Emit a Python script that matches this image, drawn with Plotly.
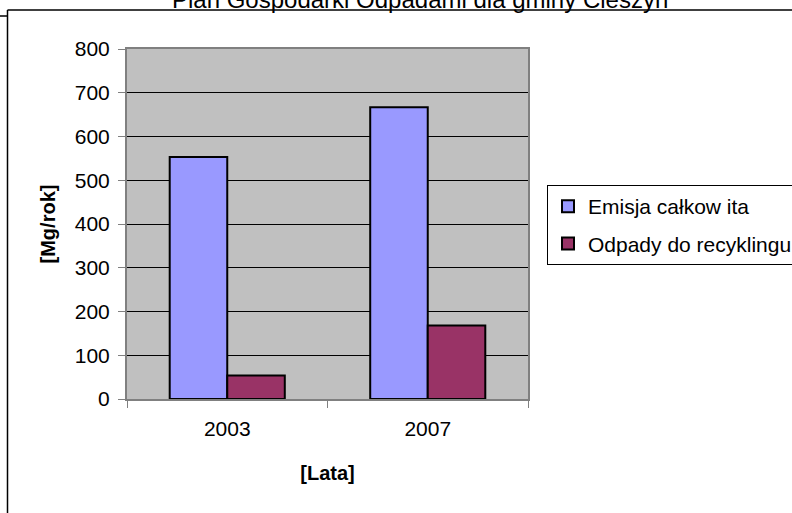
import plotly.graph_objects as go

# Data
years = ["2003", "2007"]
emisja = [553, 667]
recykling = [54, 168]
series_names = ["Emisja całkow ita", "Odpady do recyklingu"]
title_text = "Plan Gospodarki Odpadami dla gminy Cieszyn"

W, H = 792, 513
L, R, T, B = 127, 528, 49, 399  # plot area in pixels
pw, ph = R - L, B - T

def px(x):
    return (x - L) / pw

def py(y):
    return (B - y) / ph

FONT = "Liberation Sans, Arial, sans-serif"

fig = go.Figure()
fig.add_trace(go.Bar(
    x=years, y=emisja, name=series_names[0], legendgroup="a",
    marker=dict(color="#9999FF", line=dict(color="black", width=2)),
))
fig.add_trace(go.Bar(
    x=years, y=recykling, name=series_names[1], legendgroup="b",
    marker=dict(color="#993366", line=dict(color="black", width=2)),
))

fig.update_layout(
    width=W, height=H,
    margin=dict(l=L, r=W - R, t=T, b=H - B, autoexpand=False),
    paper_bgcolor="white",
    plot_bgcolor="#C0C0C0",
    barmode="group",
    bargap=0.426,
    bargroupgap=0,
    font=dict(family=FONT, size=21, color="black"),
    showlegend=True,
    legend=dict(
        x=px(547), y=py(185), xanchor="left", yanchor="top",
        bgcolor="white", bordercolor="black", borderwidth=1,
        font=dict(size=21), tracegroupgap=7,
    ),
    xaxis=dict(
        type="category",
        showline=True, linecolor="#808080", linewidth=2, mirror=True,
        ticks="outside", tickson="boundaries", ticklen=7, tickcolor="#808080", tickwidth=1,
        showgrid=False,
        tickfont=dict(size=21),
        ticklabelstandoff=10,
        title=dict(text="<b>[Lata]</b>", font=dict(size=20), standoff=27),
        automargin=False,
    ),
    yaxis=dict(
        range=[0, 800], dtick=100,
        showline=True, linecolor="#808080", linewidth=2, mirror=True,
        ticks="outside", ticklen=7, tickcolor="#808080", tickwidth=1,
        showgrid=True, gridcolor="black", gridwidth=1,
        zeroline=False,
        tickfont=dict(size=21),
        ticklabelstandoff=4,
        title=dict(text="<b>[Mg/rok]</b>", font=dict(size=20), standoff=14),
        automargin=False,
    ),
    annotations=[dict(
        text=title_text, xref="paper", yref="paper",
        x=px(420), y=py(-1), xanchor="center", yanchor="middle",
        showarrow=False, font=dict(size=24, family=FONT),
    )],
    shapes=[
        # outer chart frame
        dict(type="line", xref="paper", yref="paper",
             x0=px(7.5), x1=px(7.5), y0=py(10), y1=py(530),
             line=dict(color="black", width=1.5)),
        dict(type="line", xref="paper", yref="paper",
             x0=px(7.5), x1=px(800), y0=py(10), y1=py(10),
             line=dict(color="black", width=1.5)),
        dict(type="line", xref="paper", yref="paper",
             x0=px(0), x1=px(7.5), y0=py(16), y1=py(16),
             line=dict(color="black", width=1.5)),
    ],
)

# remove the browser's default 8px page margin so the figure sits at the window's corner
fig.write_html("out.html", config={"displayModeBar": False},
               post_script="document.body.style.margin='0px';")
